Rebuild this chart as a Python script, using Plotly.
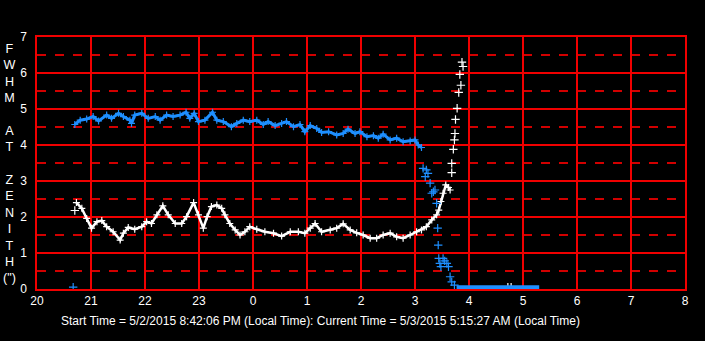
import plotly.graph_objects as go

# ---- data (hours: 20 = 8 PM, 24 = midnight, 32 = 8 AM) ----
tick_vals = list(range(20, 33))
tick_text = ["20", "21", "22", "23", "0", "1", "2", "3", "4", "5", "6", "7", "8"]

blue_x = [20.70, 20.80, 20.92, 21.04, 21.14, 21.29, 21.38, 21.51, 21.60, 21.72, 21.75, 21.81, 21.94,
          22.06, 22.19, 22.28, 22.40, 22.52, 22.65, 22.76, 22.83, 22.91, 22.99, 23.11, 23.25, 23.33,
          23.45, 23.60, 23.70, 23.82, 23.94, 24.07, 24.19, 24.28, 24.41, 24.53, 24.62, 24.75, 24.87,
          24.96, 25.06, 25.18, 25.27, 25.40, 25.55, 25.67, 25.76, 25.89, 25.98, 26.11, 26.23, 26.32,
          26.41, 26.54, 26.66, 26.78, 26.91, 27.00, 27.06, 27.12]
blue_y = [4.57, 4.69, 4.72, 4.79, 4.67, 4.83, 4.74, 4.88, 4.79, 4.69, 4.60, 4.83, 4.88,
          4.74, 4.79, 4.69, 4.83, 4.79, 4.83, 4.91, 4.74, 4.88, 4.65, 4.69, 4.91, 4.69,
          4.65, 4.51, 4.60, 4.69, 4.65, 4.69, 4.57, 4.65, 4.54, 4.60, 4.65, 4.51, 4.57,
          4.37, 4.54, 4.46, 4.35, 4.37, 4.28, 4.32, 4.44, 4.32, 4.37, 4.23, 4.26, 4.19,
          4.30, 4.14, 4.19, 4.09, 4.11, 4.14, 4.00, 3.93]

blue_sparse_x = [20.67, 27.15, 27.19, 27.21, 27.24, 27.28, 27.31, 27.34, 27.37, 27.40, 27.42, 27.43,
                 27.44, 27.46, 27.48, 27.52, 27.55, 27.59, 27.62, 27.65, 27.68, 27.73]
blue_sparse_y = [0.05, 3.35, 3.12, 3.31, 3.21, 2.94, 2.66, 2.70, 2.75, 2.38, 1.69, 1.22,
                 0.85, 0.71, 0.62, 0.85, 0.78, 0.71, 0.62, 0.34, 0.20, 0.11]

blue_flat_x = [27.77, 28.00, 28.25, 28.50, 28.75, 29.00, 29.30]
blue_flat_y = [0.05, 0.05, 0.05, 0.05, 0.05, 0.05, 0.05]

white_x = [20.73, 20.83, 20.92, 21.01, 21.11, 21.20, 21.29, 21.41, 21.54, 21.60, 21.69, 21.81, 21.94,
           22.03, 22.12, 22.22, 22.33, 22.43, 22.56, 22.68, 22.77, 22.90, 22.99, 23.08, 23.15, 23.23,
           23.33, 23.42, 23.48, 23.57, 23.67, 23.76, 23.85, 23.94, 24.07, 24.22, 24.38, 24.53, 24.69,
           24.84, 24.96, 25.06, 25.15, 25.27, 25.43, 25.55, 25.67, 25.80, 25.92, 26.04, 26.17, 26.29,
           26.41, 26.54, 26.66, 26.78, 26.91, 27.03, 27.12, 27.21, 27.31, 27.40, 27.44, 27.48, 27.52,
           27.57, 27.62, 27.65]
white_y = [2.40, 2.24, 1.96, 1.69, 1.87, 1.90, 1.73, 1.59, 1.36, 1.55, 1.71, 1.66, 1.73,
           1.87, 1.82, 2.06, 2.31, 2.06, 1.82, 1.82, 2.01, 2.40, 2.06, 1.69, 2.01, 2.29,
           2.33, 2.24, 2.06, 1.82, 1.64, 1.50, 1.59, 1.73, 1.66, 1.59, 1.55, 1.47, 1.59,
           1.59, 1.55, 1.69, 1.82, 1.59, 1.64, 1.69, 1.81, 1.64, 1.56, 1.50, 1.41, 1.41,
           1.50, 1.55, 1.45, 1.41, 1.50, 1.59, 1.64, 1.73, 1.92, 2.06, 2.19, 2.43, 2.66,
           2.89, 2.82, 2.75]

white_sparse_x = [20.70, 27.68, 27.68, 27.71, 27.73, 27.74, 27.75, 27.78, 27.81, 27.85, 27.83, 27.89,
                  27.87, 28.72, 28.78]
white_sparse_y = [2.18, 3.23, 3.49, 3.88, 4.14, 4.32, 4.71, 5.02, 5.46, 5.66, 5.96, 6.18,
                  6.30, 0.05, 0.05]

footer = "Start Time = 5/2/2015 8:42:06 PM (Local Time): Current Time = 5/3/2015 5:15:27 AM (Local Time)"
ylabel = "F<br>W<br>H<br>M<br><br>A<br>T<br><br>Z<br>E<br>N<br>I<br>T<br>H<br>(\")"

BLUE = "#1E8FFF"
WHITE = "#FFFFFF"
RED = "rgb(240,0,0)"
DRED = "rgb(210,0,0)"
FONT = "Liberation Sans, Arial, sans-serif"

fig = go.Figure()

def band(x, y, color, w):
    fig.add_trace(go.Scatter(
        x=x, y=y, mode="lines+markers",
        line=dict(color=color, width=w),
        marker=dict(symbol="cross-thin", size=5, line=dict(color=color, width=1.2)),
        showlegend=False, hoverinfo="skip"))

def dots(x, y, color):
    fig.add_trace(go.Scatter(
        x=x, y=y, mode="markers",
        marker=dict(symbol="cross-thin", size=6, line=dict(color=color, width=1.2)),
        showlegend=False, hoverinfo="skip"))

band(white_x, white_y, WHITE, 2.5)
dots(white_sparse_x, white_sparse_y, WHITE)
band(blue_x, blue_y, BLUE, 3)
dots(blue_sparse_x, blue_sparse_y, BLUE)
fig.add_trace(go.Scatter(
    x=blue_flat_x, y=blue_flat_y, mode="lines",
    line=dict(color=BLUE, width=4), showlegend=False, hoverinfo="skip"))

fig.update_layout(
    template="none",
    width=705, height=341,
    margin=dict(l=37, r=20, t=37, b=52),
    paper_bgcolor="black", plot_bgcolor="black",
    font=dict(family=FONT, color="white", size=12),
    annotations=[
        dict(text=footer, xref="paper", yref="paper", x=0.437, y=-0.125,
             xanchor="center", yanchor="middle", showarrow=False,
             font=dict(family=FONT, color="white", size=12)),
        dict(text=ylabel, xref="paper", yref="paper", x=-0.0417, y=0.50,
             xanchor="center", yanchor="middle", showarrow=False,
             font=dict(family=FONT, color="white", size=12.6)),
    ],
)
fig.update_xaxes(range=[20, 32], tickvals=tick_vals, ticktext=tick_text,
                 showgrid=True, gridcolor=RED, gridwidth=1.5,
                 zeroline=False, showline=True, linecolor=RED, linewidth=1.5, mirror=True,
                 ticks="", tickfont=dict(color="white", size=12))
fig.update_yaxes(range=[0, 7], tickvals=list(range(0, 8)),
                 showgrid=True, gridcolor=RED, gridwidth=1.5,
                 zeroline=False, showline=True, linecolor=RED, linewidth=1.5, mirror=True,
                 ticks="", tickfont=dict(color="white", size=12), ticklabelstandoff=6,
                 minor=dict(tickvals=[0.5, 1.5, 2.5, 3.5, 4.5, 5.5, 6.5], showgrid=True,
                            gridcolor=DRED, gridwidth=1.5, griddash="9px,9px", ticks=""))

fig.write_html("out.html")
